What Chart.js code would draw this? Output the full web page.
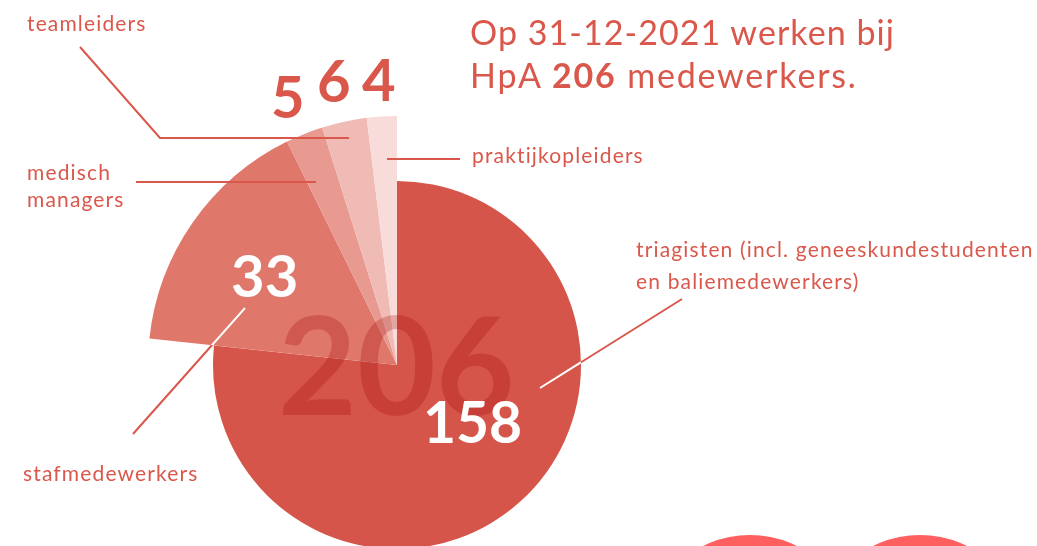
<!DOCTYPE html>
<html><head><meta charset="utf-8">
<script src="https://cdn.jsdelivr.net/npm/chart.js@4.4.1/dist/chart.umd.min.js"></script>
<style>
html,body{margin:0;padding:0;background:#fff;overflow:hidden;width:1037px;height:546px;}
#wrap{position:relative;width:1037px;height:546px;overflow:hidden;}
#c{position:absolute;left:0;top:0;}
.t{position:absolute;white-space:nowrap;font-family:Lato,'Open Sans',sans-serif;color:#d9574b;}
.t b{font-weight:700;}
.circ{position:absolute;border-radius:50%;background:#fe5f5f;}
</style></head>
<body><div id="wrap"><canvas id="c" width="1037" height="546"></canvas></div>
<script>
// ---- data ----
const categories = ['triagisten (incl. geneeskundestudenten en baliemedewerkers)', 'stafmedewerkers', 'medisch managers', 'teamleiders', 'praktijkopleiders'];
const counts = [158, 33, 5, 6, 4];
const titleLine1 = 'Op 31-12-2021 werken bij';
const titleLine2Pre = 'HpA';
const titleLine2Post = 'medewerkers.';

// ---- styles ----
const RED = '#d9574b';
const sliceColors = ['#d6554a', '#df776b', '#e89a91', '#f0bbb5', '#f7dcd9'];
const sliceRadius = [184, 249, 249, 249, 249];
const total = counts.reduce((a, b) => a + b, 0);

const wrap = document.getElementById('wrap');
function place(html, x, baseline, fs, o) {
  o = o || {};
  const d = document.createElement('div');
  d.className = 't';
  d.innerHTML = html;
  const lh = o.lh || fs * 1.2;
  d.style.fontSize = fs + 'px';
  d.style.lineHeight = lh + 'px';
  d.style.fontWeight = o.weight || 400;
  if (o.ls) d.style.letterSpacing = o.ls + 'px';
  if (o.color) d.style.color = o.color;
  d.style.left = x + 'px';
  d.style.top = (baseline - ((lh - 1.2 * fs) / 2 + 0.987 * fs)) + 'px';
  wrap.appendChild(d);
  return d;
}
function circle(cx, cy, r) {
  const d = document.createElement('div');
  d.className = 'circ';
  d.style.left = (cx - r) + 'px'; d.style.top = (cy - r) + 'px';
  d.style.width = d.style.height = (2 * r) + 'px';
  wrap.appendChild(d);
}

const leaders = [
  { pts: [[80, 47], [160, 138], [349, 138]] },
  { pts: [[136, 182], [316, 182]] },
  { pts: [[387, 159], [460, 159]] },
  { pts: [[245, 308], [133, 434]], whiteInside: true },
  { pts: [[540, 388], [682, 299]], whiteInside: true }
];

const nightingale = {
  id: 'nightingale',
  afterDatasetsUpdate(chart) {
    chart.getDatasetMeta(0).data.forEach((a, i) => { a.outerRadius = sliceRadius[i]; });
  },
  afterDatasetsDraw(chart) {
    const ctx = chart.ctx;
    const arcs = chart.getDatasetMeta(0).data;
    ctx.save();
    ctx.lineWidth = 2;
    const path = (L) => { ctx.beginPath(); L.pts.forEach((p, j) => j ? ctx.lineTo(p[0], p[1]) : ctx.moveTo(p[0], p[1])); };
    leaders.forEach(L => {
      path(L); ctx.strokeStyle = RED; ctx.stroke();
      if (L.whiteInside) {
        ctx.save();
        ctx.beginPath();
        arcs.forEach(a => { ctx.moveTo(a.x, a.y); ctx.arc(a.x, a.y, a.outerRadius, a.startAngle, a.endAngle); ctx.closePath(); });
        ctx.clip();
        path(L); ctx.strokeStyle = '#fff'; ctx.stroke();
        ctx.restore();
      }
    });
    ctx.restore();
  }
};

new Chart(document.getElementById('c'), {
  type: 'pie',
  data: {
    labels: categories,
    datasets: [{ data: counts, backgroundColor: sliceColors, borderWidth: 0, clip: false }]
  },
  options: {
    responsive: false,
    animation: false,
    events: [],
    radius: 249,
    layout: { padding: { left: 147, right: 390, top: 184, bottom: 0 } },
    plugins: { legend: { display: false }, tooltip: { enabled: false } }
  },
  plugins: [nightingale]
});

// decorative circles
circle(750, 641, 106);
circle(920, 641, 106);

// texts
place('<span style="letter-spacing:1.05px">' + titleLine1 + '</span><br><span style="letter-spacing:1.8px">' + titleLine2Pre + ' <b>' + total + '</b> ' + titleLine2Post + '</span>', 470, 45, 34, { lh: 43 });
const LS = 1.15;
place(categories[3], 27, 31, 21, { ls: LS });
place('medisch<br>managers', 27, 180, 21, { lh: 27, ls: LS });
place(categories[4], 472, 163, 21, { ls: LS });
place('triagisten (incl. geneeskundestudenten<br>en baliemedewerkers)', 636, 257, 21, { lh: 31.5, ls: LS });
place(categories[1], 23, 481, 21, { ls: LS });
// values
place(String(counts[2]), 271, 118, 58, { weight: 700 });
place(String(counts[3]), 317, 102, 58, { weight: 700 });
place(String(counts[4]), 362, 101, 58, { weight: 700 });
place(String(total), 278, 415, 136, { weight: 700, color: 'rgba(160,0,0,0.25)' });
place(String(counts[1]), 231, 297, 58, { weight: 700, color: '#fff' });
place(String(counts[0]), 423, 443, 57, { weight: 700, color: '#fff' });
</script>
</body></html>
